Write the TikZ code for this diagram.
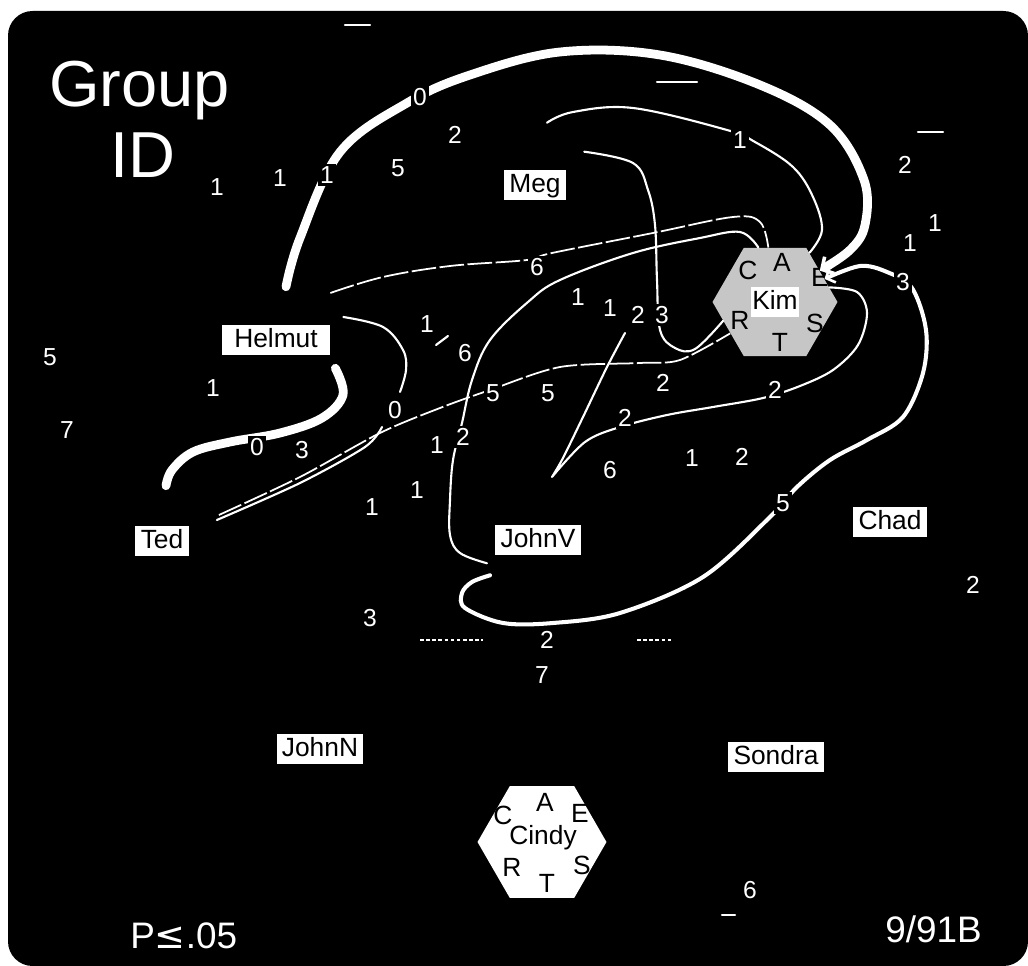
\documentclass[tikz,border=0pt]{standalone}
\usepackage{fontspec}
\setmainfont{Liberation Sans}
\newfontfamily\symfont{DejaVu Sans}
\usetikzlibrary{arrows.meta, shapes.geometric}
\tikzset{
	panel/.style={fill=black, rounded corners=14pt},
	person/.style={rectangle, fill=white, text=black, inner xsep=3pt, inner ysep=1.5pt, text height=11pt, text depth=3pt, font=\fontsize{15}{15}\selectfont},
	hexnode/.style={regular polygon, regular polygon sides=6, inner sep=0pt, draw=none},
	hexletter/.style={text=black, inner sep=0pt, font=\fontsize{15}{15}\selectfont},
	num/.style={text=white, fill=black, inner sep=1.2pt, font=\fontsize{14}{14}\selectfont},
	heavyline/.style={draw=white, line width=5pt, line cap=round},
	loopline/.style={draw=white, line width=2.3pt, line cap=round},
	fineline/.style={draw=white, line width=1.2pt, line cap=round},
	dashline/.style={draw=white, line width=1pt, dash pattern=on 14pt off 2pt},
	faintmark/.style={draw=white, line width=0.8pt, dash pattern=on 2pt off 1.5pt},
	grouptitle/.style={text=white, inner sep=0pt, anchor=base west, font=\fontsize{37}{37}\selectfont},
	cornertext/.style={text=white, inner sep=0pt, anchor=base west, font=\fontsize{21}{21}\selectfont},
}
\begin{document}
\begin{tikzpicture}[x=0.02cm, y=-0.02cm]
		\useasboundingbox (0,0) rectangle (1028,966);
		\fill[white] (0,0) rectangle (1028,966);
		\fill[panel] (8,11) rectangle (1028,966);
		\node[person] (meg) at (535,185) {Meg};
		\node[person, minimum width=2.16cm] (helmut) at (276,340) {Helmut};
		\node[person] (ted) at (162,541) {Ted};
		\node[person] (johnv) at (538,540) {JohnV};
		\node[person] (chad) at (890,522) {Chad};
		\node[person] (johnn) at (320,749) {JohnN};
		\node[person] (sondra) at (776,757) {Sondra};
		\node[hexnode, fill=gray!45, minimum size=2.5cm] (kim) at (775,302) {};
		\node[person, inner xsep=1pt] (kimname) at (kim.center) {Kim};
		\node[hexletter] (kimC) at ([shift={(-27,-32)}]kim.center) {C};
		\node[hexletter] (kimA) at ([shift={(7,-40)}]kim.center) {A};
		\node[hexletter] (kimE) at ([shift={(45,-25)}]kim.center) {E};
		\node[hexletter] (kimR) at ([shift={(-35,18)}]kim.center) {R};
		\node[hexletter] (kimS) at ([shift={(40,21)}]kim.center) {S};
		\node[hexletter] (kimT) at ([shift={(5,40)}]kim.center) {T};
		\node[hexnode, fill=white, minimum size=2.58cm] (cindy) at (542,842) {};
		\node[hexletter] (cindyname) at ([shift={(1,-4)}]cindy.center) {Cindy};
		\node[hexletter] (cindyC) at ([shift={(-39,-27)}]cindy.center) {C};
		\node[hexletter] (cindyA) at ([shift={(3,-40)}]cindy.center) {A};
		\node[hexletter] (cindyE) at ([shift={(38,-29)}]cindy.center) {E};
		\node[hexletter] (cindyR) at ([shift={(-30,25)}]cindy.center) {R};
		\node[hexletter] (cindyS) at ([shift={(40,23)}]cindy.center) {S};
		\node[hexletter] (cindyT) at ([shift={(5,41)}]cindy.center) {T};
		\coordinate (vtop) at (625,333);
		\draw[heavyline, -{Straight Barb[length=5pt, width=11pt, line width=2pt]}] plot[smooth, tension=0.6] coordinates {([shift={(10,-38)}]helmut.north) (300,238) (340,152) (407,103) (470,75) (560,52) (660,55) (760,85) (830,125) (864,180) (865,225) (850,250) (kim.35)};
		\draw[heavyline] plot[smooth, tension=0.6] coordinates {([shift={(5,13)}]helmut.south east) (343,395) (322,418) (280,433) (230,442) (193,452) (172,470) ([shift={(4,-40)}]ted.north)};
		\draw[dashline] plot[smooth, tension=0.5] coordinates {([shift={(30,-26)}]ted.east) (300,477) (380,433) (440,408) (490,390) (560,367) (640,363) (680,360) (kim.215)};
		\draw[fineline] plot[smooth, tension=0.5] coordinates {([shift={(28,-21)}]ted.east) (300,483) (365,447) (382,427)};
		\draw[fineline] plot[smooth, tension=0.6] coordinates {([shift={(13,-23)}]helmut.east) (383,327) (403,350) (406,370) (400,392)};
		\draw[dashline] plot[smooth, tension=0.6] coordinates {([shift={(0,-47)}]helmut.east) (383,277) (450,266) (527,260) (552,253) (653,233) (733,217) (760,222) (kim.97)};
		\draw[fineline] plot[smooth, tension=0.6] coordinates {([shift={(-8,8)}]johnv.south west) (460,553) (450,535) (450,500) (453,460) (462,423) (472,380) (490,340) (528,302) (560,280) (633,253) (700,238) (740,232) (kim.107)};
		\draw[fineline] plot[smooth, tension=0.6] coordinates {([shift={(18,-18)}]meg.north east) (633,163) (648,190) (655,225) (657,280) (660,330) (675,348) (695,349) (kim.200)};
		\draw[fineline] plot[smooth, tension=0.6] coordinates {([shift={(12,-47)}]meg.north) (573,112) (633,108) (727,130) (755,142) (793,167) (813,197) (822,230) (kim.55)};
		\draw[fineline] plot[smooth, tension=0.5] coordinates {(vtop) (607,367) (583,417) (563,458) (552,477)} plot[smooth, tension=0.55] coordinates {(552,477) (585,442) (620,427) (667,415) (713,407) (763,398) (800,386) (833,370) (858,345) (867,313) (857,292) (kim.15)};
		\draw[loopline, -{Straight Barb[length=4pt, width=9pt, line width=1.5pt]}] plot[smooth, tension=0.55] coordinates {([shift={(-5,20)}]johnv.south west) (472,582) (462,593) (465,608) (503,623) (553,623) (620,613) (703,577) (770,517) (797,487) (830,460) (867,440) (903,417) (923,373) (926,330) (912,288) (887,272) (860,266) (kim.25)};
		\draw[faintmark] (420,640) -- (483,640);
		\draw[faintmark] (637,640) -- (672,640);
		\draw[fineline] (345,25) -- (370,25);
		\draw[fineline] (657,82) -- (697,82);
		\draw[fineline] (918,132) -- (943,132);
		\draw[fineline] (722,915) -- (735,915);
		\foreach \px/\py/\val [count=\i] in {217/187/1, 280/178/1, 327/175/1, 398/168/5, 420/97/0, 455/135/2, 740/140/1, 905/165/2, 935/223/1, 910/243/1, 903/282/3, 537/267/6, 578/297/1, 610/308/1, 638/315/2, 662/315/3, 50/357/5, 67/430/7, 213/388/1, 257/447/0, 302/450/3, 395/410/0, 427/324/1, 465/353/6, 493/393/5, 548/393/5, 663/383/2, 775/390/2, 437/445/1, 463/437/2, 625/418/2, 610/470/6, 692/458/1, 742/457/2, 417/490/1, 372/507/1, 783/503/5, 370/618/3, 547/640/2, 542/675/7, 973/585/2, 750/890/6}
			\node[num] (n\i) at (\px,\py) {\val};
		\draw[fineline] (436,345) -- (448,336);
		\node[grouptitle] (grouptop) at (49,107) {Group};
		\node[grouptitle] (groupid) at (110,178) {ID};
		\node[cornertext] (pvalue) at (130,948) {P{\symfont ≤}.05};
		\node[cornertext] (datecode) at (885,942) {9/91B};
	\end{tikzpicture}
\end{document}
